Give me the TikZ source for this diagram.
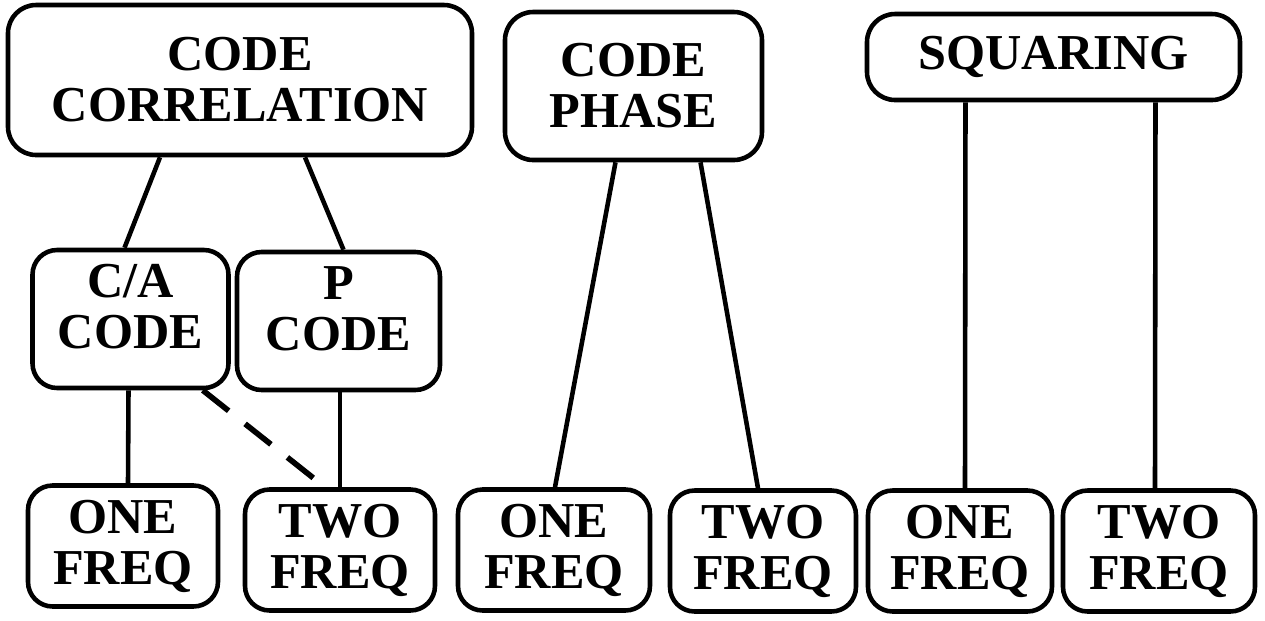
\documentclass[tikz,border=0pt]{standalone}
\usepackage{fontspec}
\setmainfont{Liberation Serif}
\usepackage{tikz}
\usetikzlibrary{positioning}

\begin{document}
\begin{tikzpicture}[
  box/.style={rectangle, rounded corners=14pt, draw=black, line width=2.6pt,
              align=center, font=\fontsize{28.6}{29}\selectfont\bfseries},
  top/.style={box, rounded corners=16pt},
  leaf/.style={box, minimum height=2.42cm},
  link/.style={line width=2.6pt},
  dlink/.style={line width=3.2pt, dash pattern=on 0.66cm off 0.42cm}
]
  \useasboundingbox (0,0) rectangle (25.3,-12.4);

  %% --- Row 0: methods ---
  \node[top, minimum width=9.28cm, minimum height=3.0cm]
    (corr) at (4.8,-1.6)   {CODE\\CORRELATION};
  \node[top, minimum width=5.14cm, minimum height=2.96cm]
    (phase) at (12.67,-1.72) {CODE\\PHASE};
  \node[top, minimum width=7.46cm, minimum height=1.72cm]
    (sq) at (21.07,-1.14)  {SQUARING};

  %% --- Row 1: codes ---
  \node[box, minimum width=3.92cm, minimum height=2.76cm, text depth=0.5cm]
    (ca) at (2.61,-6.38) {C/A\\CODE};
  \node[box, minimum width=4.06cm, minimum height=2.76cm, text depth=0.5cm]
    (pc) at (6.77,-6.42) {P\\CODE};

  %% --- Row 2: frequencies ---
  \node[leaf, minimum width=3.8cm]  (one1) at (2.46,-10.92)  {ONE\\FREQ};
  \node[leaf, minimum width=3.8cm]  (two1) at (6.8,-11.0)   {TWO\\FREQ};
  \node[leaf, minimum width=3.84cm] (one2) at (11.08,-11.0)  {ONE\\FREQ};
  \node[leaf, minimum width=3.72cm] (two2) at (15.26,-11.02) {TWO\\FREQ};
  \node[leaf, minimum width=3.68cm] (one3) at (19.2,-11.02)  {ONE\\FREQ};
  \node[leaf, minimum width=3.84cm] (two3) at (23.18,-11.02) {TWO\\FREQ};

  %% --- Connectors ---
  %% CODE CORRELATION -> codes
  \draw[link] ([xshift=-1.6cm]corr.south) -- ([xshift=-0.12cm]ca.north);
  \draw[link] ([xshift=1.3cm]corr.south)  -- ([xshift=0.1cm]pc.north);

  %% codes -> frequencies
  \draw[link] ([xshift=-0.04cm]ca.south) -- ([xshift=0.1cm]one1.north);
  \draw[link] ([xshift=0.03cm]pc.south)  -- ([xshift=0.0cm]two1.north);
  \draw[dlink] ([xshift=-0.56cm]ca.south east) -- ([xshift=-0.3cm]two1.north);

  %% CODE PHASE -> frequencies
  \draw[link] ([xshift=-0.36cm]phase.south) -- ([xshift=0.02cm]one2.north);
  \draw[link] ([xshift=1.34cm]phase.south)  -- ([xshift=-0.1cm]two2.north);

  %% SQUARING -> frequencies
  \draw[link] ([xshift=-1.76cm]sq.south) -- ([xshift=0.1cm]one3.north);
  \draw[link] ([xshift=2.04cm]sq.south)  -- ([xshift=-0.08cm]two3.north);

\end{tikzpicture}
\end{document}
